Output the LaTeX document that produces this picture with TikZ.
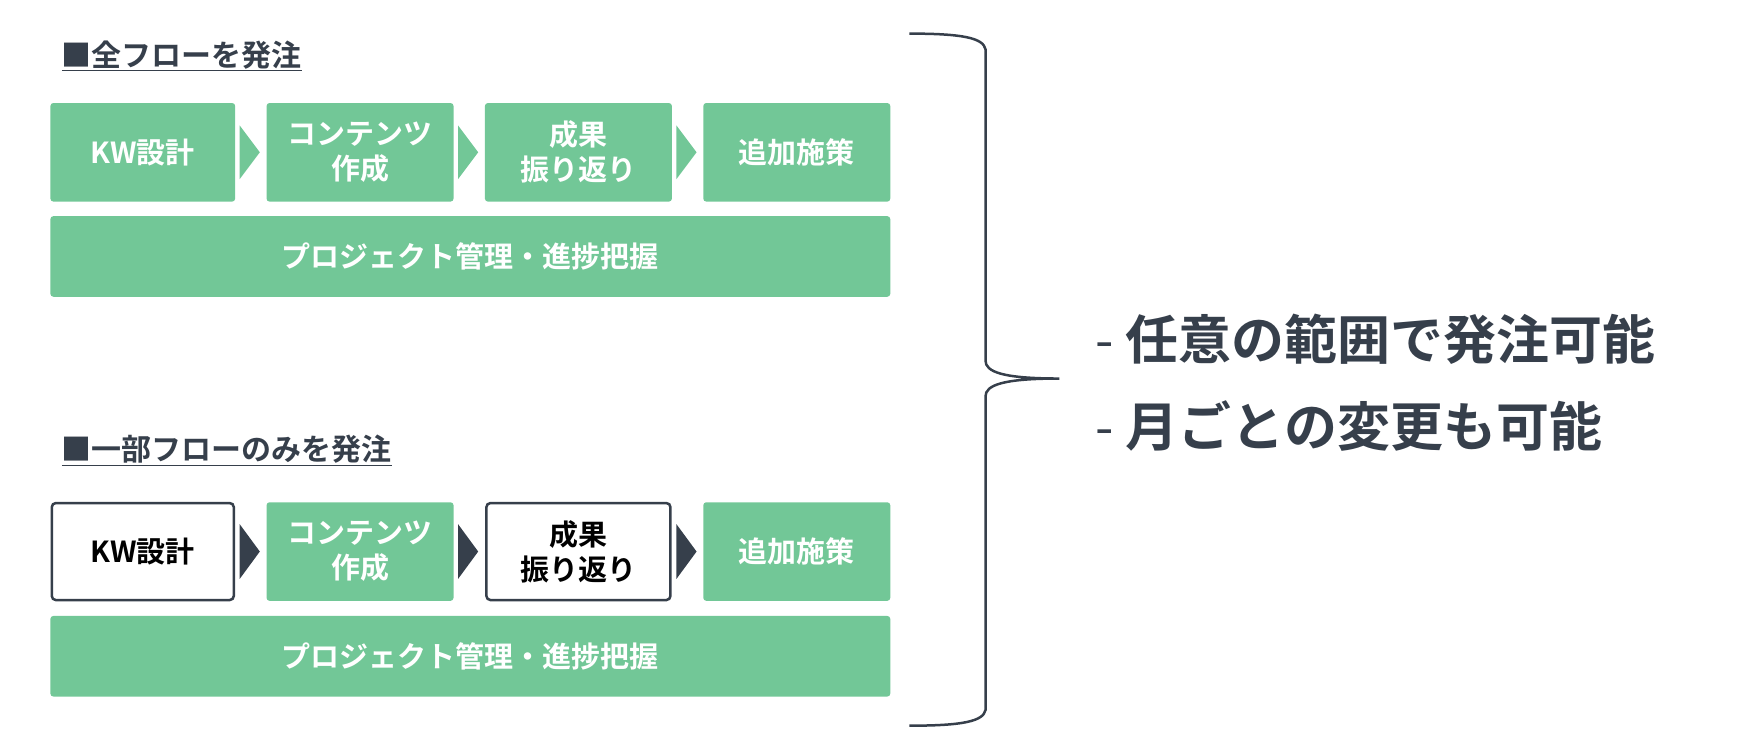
\documentclass[tikz,border=0pt]{standalone}
\usepackage{fontspec}
\setmainfont{Noto Sans CJK JP Bold}
\newfontfamily\lightf{Noto Sans CJK JP}
\definecolor{grn}{HTML}{72C797}
\definecolor{drk}{HTML}{363F4B}
\begin{document}
\begin{tikzpicture}[x=1.12pt,y=-1.12pt,
  gbox/.style={fill=grn,rounded corners=3pt,text=white,align=center,font=\fontsize{29}{35}\selectfont},
  wbox/.style={fill=white,draw=drk,line width=2.5pt,rounded corners=4pt,text=black,align=center,font=\fontsize{29}{35}\selectfont},
  ttl/.style={anchor=west,font=\fontsize{30}{34}\selectfont,text=drk},
  big/.style={anchor=west,font=\fontsize{53}{60}\selectfont,text=drk}]
\useasboundingbox (0,0) rectangle (1560,671.4);
\newcommand{\tri}[4]{\fill[#4] (#1,#2) -- ({#1+18},#3) -- (#1,{2*#3-#2}) -- cycle;}
% top
\node[ttl] (t1) at (52,50) {\underline{■全フローを発注}};
\node[gbox,minimum width=184.8pt,minimum height=98.6pt] (a1) at (127.5,136) {KW設計};
\node[gbox,minimum width=187pt,minimum height=98.6pt] (a2) at (321.5,136) {コンテンツ\\作成};
\node[gbox,minimum width=187pt,minimum height=98.6pt] (a3) at (516.5,136) {成果\\振り返り};
\node[gbox,minimum width=187pt,minimum height=98.6pt] (a4) at (711.5,136) {追加施策};
\node[gbox,minimum width=840pt,minimum height=80.6pt] (a5) at (420,229) {プロジェクト管理・進捗把握};
\tri{214}{112}{136}{grn}
\tri{409}{112}{136}{grn}
\tri{604}{112}{136}{grn}
% bottom
\node[ttl] (t2) at (52,402) {\underline{■一部フローのみを発注}};
\node[wbox,minimum width=182pt,minimum height=97pt] (b1) at (127.5,492.5) {KW設計};
\node[gbox,minimum width=187pt,minimum height=98.6pt] (b2) at (321.5,492.5) {コンテンツ\\作成};
\node[wbox,minimum width=184pt,minimum height=97pt] (b3) at (516.5,492.5) {成果\\振り返り};
\node[gbox,minimum width=187pt,minimum height=98.6pt] (b4) at (711.5,492.5) {追加施策};
\node[gbox,minimum width=840pt,minimum height=80.6pt] (b5) at (420,586) {プロジェクト管理・進捗把握};
\tri{214}{468}{492.5}{drk}
\tri{409}{468}{492.5}{drk}
\tri{604}{468}{492.5}{drk}
% brace
\draw[drk,line width=2.5pt] (812,30) .. controls (860,30) and (878,34) .. (880,44)
  -- (880,322) .. controls (880,332) and (895,338) .. (946,338)
  (946,338) .. controls (895,338) and (880,344) .. (880,354) -- (880,634) .. controls (878,644) and (860,648) .. (812,648);
\node[big] (m1) at (975,303) {{\lightf -}\hspace{12pt}任意の範囲で発注可能};
\node[big] (m2) at (975,380) {{\lightf -}\hspace{12pt}月ごとの変更も可能};
\end{tikzpicture}
\end{document}
